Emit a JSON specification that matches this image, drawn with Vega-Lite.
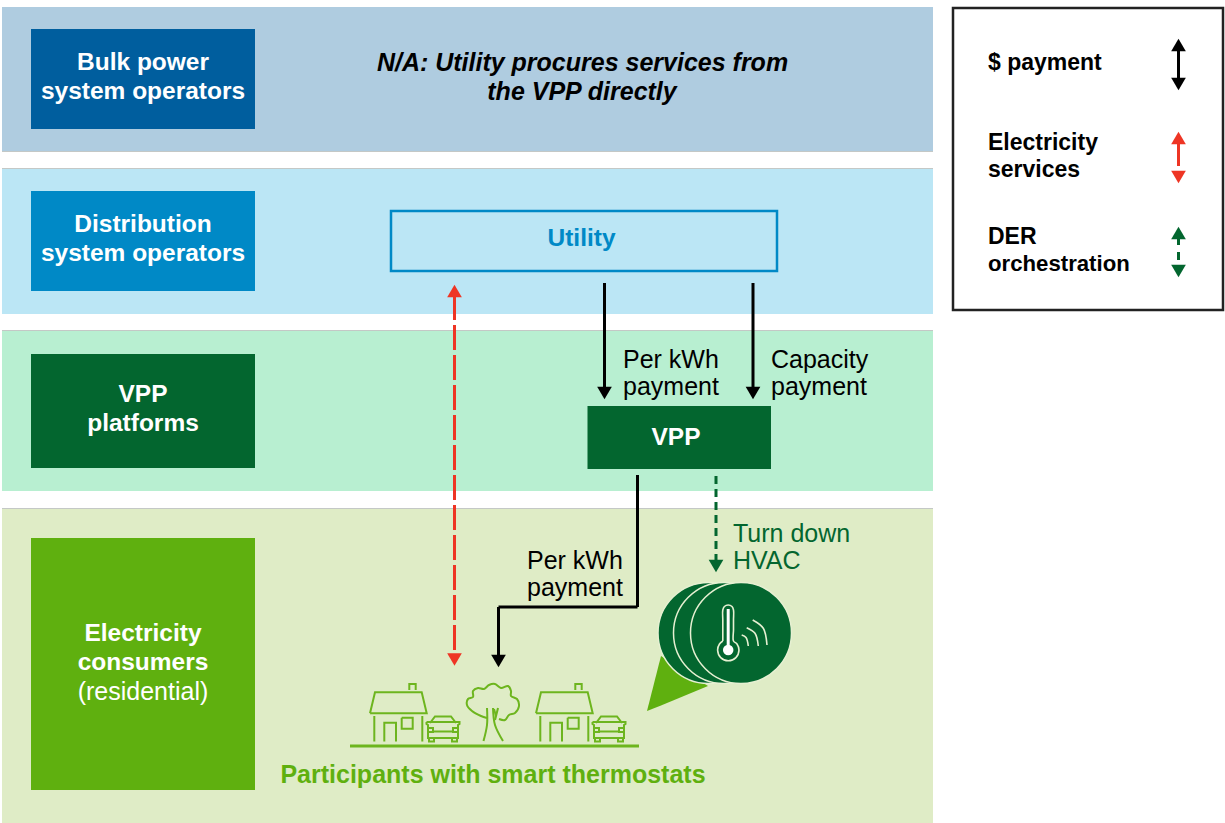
{
"$schema":"https://vega.github.io/schema/vega-lite/v6.json",
"width":1225,"height":823,"padding":0,"autosize":{"type":"none"},
"background":"white",
"config":{"view":{"stroke":null},"axis":{"domain":false}},
"datasets":{
"rects":[
{"x":2,"x2":933,"y":7,"y2":152,"c":"bulkBand"},
{"x":2,"x2":933,"y":168,"y2":314,"c":"distBand"},
{"x":2,"x2":933,"y":330,"y2":491,"c":"vppBand"},
{"x":2,"x2":933,"y":508,"y2":823,"c":"consBand"},
{"x":2,"x2":933,"y":151,"y2":152,"c":"edge"},
{"x":2,"x2":933,"y":168,"y2":169,"c":"edge"},
{"x":2,"x2":933,"y":330,"y2":331,"c":"edge"},
{"x":2,"x2":933,"y":508,"y2":509,"c":"edge"},
{"x":31,"x2":255,"y":29,"y2":129,"c":"bulk"},
{"x":31,"x2":255,"y":191,"y2":291,"c":"dist"},
{"x":31,"x2":255,"y":354,"y2":468,"c":"vpp"},
{"x":31,"x2":255,"y":538,"y2":790,"c":"cons"},
{"x":587.5,"x2":771,"y":406,"y2":469,"c":"vpp"}
],
"frames":[
{"g":"utility","c":"dist","x":391,"y":211},{"g":"utility","c":"dist","x":777,"y":211},{"g":"utility","c":"dist","x":777,"y":271},{"g":"utility","c":"dist","x":391,"y":271},{"g":"utility","c":"dist","x":391,"y":211},
{"g":"legend","c":"ink","x":953,"y":8},{"g":"legend","c":"ink","x":1223,"y":8},{"g":"legend","c":"ink","x":1223,"y":310},{"g":"legend","c":"ink","x":953,"y":310},{"g":"legend","c":"ink","x":953,"y":8}
],
"flows":[
{"g":"a1","c":"black","d":"solid","x":604.5,"y":283},{"g":"a1","c":"black","d":"solid","x":604.5,"y":389},
{"g":"a2","c":"black","d":"solid","x":753,"y":283},{"g":"a2","c":"black","d":"solid","x":753,"y":389},
{"g":"a3","c":"black","d":"solid","x":637.5,"y":475},{"g":"a3","c":"black","d":"solid","x":637.5,"y":607},{"g":"a3","c":"black","d":"solid","x":498.5,"y":607},{"g":"a3","c":"black","d":"solid","x":498.5,"y":657},
{"g":"r1","c":"red","d":"long","x":454.5,"y":295},{"g":"r1","c":"red","d":"long","x":454.5,"y":655},
{"g":"g1","c":"vpp","d":"short","x":716,"y":476},{"g":"g1","c":"vpp","d":"short","x":716,"y":561},
{"g":"l1","c":"black","d":"solid","x":1178.5,"y":49},{"g":"l1","c":"black","d":"solid","x":1178.5,"y":80},
{"g":"l2","c":"red","d":"solid","x":1178.5,"y":142},{"g":"l2","c":"red","d":"solid","x":1178.5,"y":166},
{"g":"l3","c":"vpp","d":"solid","x":1178.5,"y":238},{"g":"l3","c":"vpp","d":"solid","x":1178.5,"y":245},
{"g":"l4","c":"vpp","d":"solid","x":1178.5,"y":252},{"g":"l4","c":"vpp","d":"solid","x":1178.5,"y":260}
],
"heads":[
{"x":604.5,"y":393,"s":"down","c":"black"},{"x":753,"y":393,"s":"down","c":"black"},{"x":498.5,"y":661,"s":"down","c":"black"},
{"x":454.5,"y":291,"s":"up","c":"red"},{"x":454.5,"y":659.5,"s":"down","c":"red"},{"x":716,"y":566,"s":"down","c":"vpp"},
{"x":1178.5,"y":45,"s":"up","c":"black"},{"x":1178.5,"y":84,"s":"down","c":"black"},
{"x":1178.5,"y":138,"s":"up","c":"red"},{"x":1178.5,"y":177,"s":"down","c":"red"},
{"x":1178.5,"y":233,"s":"up","c":"vpp"},{"x":1178.5,"y":271,"s":"down","c":"vpp"}
],
"tail":[{"x":647,"y":711,"y2":711,"c":"cons"},{"x":661,"y":656,"y2":705.5,"c":"cons"},{"x":708,"y":686,"y2":686,"c":"cons"}],
"discs":[{"x":708.5,"y":633,"k":"a"},{"x":724,"y":633,"k":"b"},{"x":741,"y":633,"k":"c"}],
"ground":[{"x":350,"y":746},{"x":639,"y":746}],
"icons":[
{"g":"roof1","x":370,"y":713.3},{"g":"roof1","x":375,"y":692.3},{"g":"roof1","x":421.7,"y":692.3},{"g":"roof1","x":426.7,"y":713.3},{"g":"roof1","x":370,"y":713.3},
{"g":"chim1","x":409.3,"y":690},{"g":"chim1","x":409.3,"y":684},{"g":"chim1","x":415.7,"y":684},{"g":"chim1","x":415.7,"y":690},
{"g":"wl1","x":374.3,"y":716},{"g":"wl1","x":374.3,"y":741.5},
{"g":"wr1","x":422.3,"y":716},{"g":"wr1","x":422.3,"y":741.5},
{"g":"door1","x":384.3,"y":741.5},{"g":"door1","x":384.3,"y":722.7},{"g":"door1","x":396,"y":722.7},{"g":"door1","x":396,"y":741.5},
{"g":"win1","x":401.7,"y":717.7},{"g":"win1","x":412.7,"y":717.7},{"g":"win1","x":412.7,"y":728.7},{"g":"win1","x":401.7,"y":728.7},{"g":"win1","x":401.7,"y":717.7},
{"g":"cab1","x":430,"y":723},{"g":"cab1","x":435,"y":716.5},{"g":"cab1","x":451,"y":716.5},{"g":"cab1","x":456,"y":723},
{"g":"bod1","x":426.5,"y":722},{"g":"bod1","x":459.5,"y":722},{"g":"bod1","x":459.5,"y":724},{"g":"bod1","x":458,"y":725},{"g":"bod1","x":458,"y":738},{"g":"bod1","x":428,"y":738},{"g":"bod1","x":428,"y":725},{"g":"bod1","x":426.5,"y":724},{"g":"bod1","x":426.5,"y":722},
{"g":"whl1","x":429,"y":738},{"g":"whl1","x":429,"y":741.5},{"g":"whl1","x":434,"y":741.5},{"g":"whl1","x":434,"y":738},
{"g":"whr1","x":452,"y":738},{"g":"whr1","x":452,"y":741.5},{"g":"whr1","x":457,"y":741.5},{"g":"whr1","x":457,"y":738},
{"g":"gr1","x":434,"y":731.5},{"g":"gr1","x":452,"y":731.5},
{"g":"lampl1","x":428,"y":728},{"g":"lampl1","x":433,"y":728},{"g":"lampl1","x":433,"y":732},{"g":"lampl1","x":428,"y":732},
{"g":"lampr1","x":458,"y":728},{"g":"lampr1","x":453,"y":728},{"g":"lampr1","x":453,"y":732},{"g":"lampr1","x":458,"y":732},
{"g":"roof2","x":536,"y":713.3},{"g":"roof2","x":541,"y":692.3},{"g":"roof2","x":587.7,"y":692.3},{"g":"roof2","x":592.7,"y":713.3},{"g":"roof2","x":536,"y":713.3},
{"g":"chim2","x":575.3,"y":690},{"g":"chim2","x":575.3,"y":684},{"g":"chim2","x":581.7,"y":684},{"g":"chim2","x":581.7,"y":690},
{"g":"wl2","x":540.3,"y":716},{"g":"wl2","x":540.3,"y":741.5},
{"g":"wr2","x":588.3,"y":716},{"g":"wr2","x":588.3,"y":741.5},
{"g":"door2","x":550.3,"y":741.5},{"g":"door2","x":550.3,"y":722.7},{"g":"door2","x":562,"y":722.7},{"g":"door2","x":562,"y":741.5},
{"g":"win2","x":567.7,"y":717.7},{"g":"win2","x":578.7,"y":717.7},{"g":"win2","x":578.7,"y":728.7},{"g":"win2","x":567.7,"y":728.7},{"g":"win2","x":567.7,"y":717.7},
{"g":"cab2","x":596,"y":723},{"g":"cab2","x":601,"y":716.5},{"g":"cab2","x":617,"y":716.5},{"g":"cab2","x":622,"y":723},
{"g":"bod2","x":592.5,"y":722},{"g":"bod2","x":625.5,"y":722},{"g":"bod2","x":625.5,"y":724},{"g":"bod2","x":624,"y":725},{"g":"bod2","x":624,"y":738},{"g":"bod2","x":594,"y":738},{"g":"bod2","x":594,"y":725},{"g":"bod2","x":592.5,"y":724},{"g":"bod2","x":592.5,"y":722},
{"g":"whl2","x":595,"y":738},{"g":"whl2","x":595,"y":741.5},{"g":"whl2","x":600,"y":741.5},{"g":"whl2","x":600,"y":738},
{"g":"whr2","x":618,"y":738},{"g":"whr2","x":618,"y":741.5},{"g":"whr2","x":623,"y":741.5},{"g":"whr2","x":623,"y":738},
{"g":"gr2","x":600,"y":731.5},{"g":"gr2","x":618,"y":731.5},
{"g":"lampl2","x":594,"y":728},{"g":"lampl2","x":599,"y":728},{"g":"lampl2","x":599,"y":732},{"g":"lampl2","x":594,"y":732},
{"g":"lampr2","x":624,"y":728},{"g":"lampr2","x":619,"y":728},{"g":"lampr2","x":619,"y":732},{"g":"lampr2","x":624,"y":732}
],
"tree":[
{"g":"crown","x":487,"y":718},{"g":"crown","x":481,"y":716},{"g":"crown","x":472,"y":711},{"g":"crown","x":467,"y":705},{"g":"crown","x":468,"y":699},{"g":"crown","x":473,"y":697},{"g":"crown","x":473,"y":691},{"g":"crown","x":478,"y":688},{"g":"crown","x":484,"y":689},{"g":"crown","x":489,"y":685},{"g":"crown","x":495,"y":684},{"g":"crown","x":501,"y":688},{"g":"crown","x":508,"y":686},{"g":"crown","x":511,"y":691},{"g":"crown","x":511,"y":696},{"g":"crown","x":517,"y":699},{"g":"crown","x":519,"y":706},{"g":"crown","x":515,"y":713},{"g":"crown","x":509,"y":715},{"g":"crown","x":505,"y":720},{"g":"crown","x":499,"y":719},
{"g":"tl","x":487,"y":708},{"g":"tl","x":487,"y":725},{"g":"tl","x":483.5,"y":741},
{"g":"tr","x":493,"y":708},{"g":"tr","x":495,"y":725},{"g":"tr","x":503,"y":741},
{"g":"b1","x":498,"y":708},{"g":"b1","x":495,"y":720},
{"g":"b2","x":494,"y":709},{"g":"b2","x":496,"y":716}
],
"therm":[
{"g":"out","x":722.8,"y":641},{"g":"out","x":719.5,"y":644},{"g":"out","x":717.6,"y":650},{"g":"out","x":720.7,"y":657.6},{"g":"out","x":728.3,"y":660.7},{"g":"out","x":735.9,"y":657.6},{"g":"out","x":739,"y":650},{"g":"out","x":737,"y":644},{"g":"out","x":733.5,"y":641},{"g":"out","x":733.5,"y":630},{"g":"out","x":733.5,"y":620},{"g":"out","x":733.5,"y":610},{"g":"out","x":732,"y":606.5},{"g":"out","x":728.2,"y":605},{"g":"out","x":724.4,"y":606.5},{"g":"out","x":722.8,"y":610},{"g":"out","x":722.8,"y":620},{"g":"out","x":722.8,"y":630},{"g":"out","x":722.8,"y":641},
{"g":"w1","x":741.7,"y":635},{"g":"w1","x":746,"y":637.5},{"g":"w1","x":748.3,"y":646},
{"g":"w2","x":746.7,"y":627.7},{"g":"w2","x":755,"y":633.3},{"g":"w2","x":758.3,"y":646},
{"g":"w3","x":752.7,"y":620},{"g":"w3","x":763.3,"y":628.3},{"g":"w3","x":767,"y":645}
],
"stem":[{"x":728.2,"y":609},{"x":728.2,"y":650}],
"bulb":[{"x":728.2,"y":650}],
"boldText":[
{"t":"Bulk power","x":143,"y":62,"c":"white"},{"t":"system operators","x":143,"y":91,"c":"white"},
{"t":"Distribution","x":143,"y":224,"c":"white"},{"t":"system operators","x":143,"y":253,"c":"white"},
{"t":"VPP","x":143,"y":394,"c":"white"},{"t":"platforms","x":143,"y":423,"c":"white"},
{"t":"Electricity","x":143,"y":633,"c":"white"},{"t":"consumers","x":143,"y":662,"c":"white"},
{"t":"Utility","x":581.5,"y":238,"c":"dist"},{"t":"VPP","x":676,"y":437,"c":"white"}
],
"caption":[{"t":"Participants with smart thermostats","x":493,"y":774,"c":"cons"}],
"legendText":[
{"t":"$ payment","x":988,"y":62,"c":"black"},{"t":"Electricity","x":988,"y":142,"c":"black"},{"t":"services","x":988,"y":169,"c":"black"},{"t":"DER","x":988,"y":236,"c":"black"}
],
"legendNarrow":[{"t":"orchestration","x":988,"y":263,"c":"black"}],
"italicText":[{"t":"N/A: Utility procures services from","x":582.5,"y":62,"c":"black"},{"t":"the VPP directly","x":582,"y":91,"c":"black"}],
"plainLeft":[
{"t":"Per kWh","x":623,"y":359,"c":"black"},{"t":"payment","x":623,"y":386,"c":"black"},
{"t":"Capacity","x":771,"y":359,"c":"black"},{"t":"payment","x":771,"y":386,"c":"black"},
{"t":"Per kWh","x":527,"y":560,"c":"black"},{"t":"payment","x":527,"y":587,"c":"black"},
{"t":"Turn down","x":733,"y":533,"c":"vpp"},{"t":"HVAC","x":733,"y":560,"c":"vpp"}
],
"plainCenter":[{"t":"(residential)","x":143,"y":691,"c":"white"}]
},
"encoding":{
"x":{"field":"x","type":"quantitative","scale":{"domain":[0,1225],"nice":false,"zero":false},"axis":null},
"y":{"field":"y","type":"quantitative","scale":{"domain":[823,0],"nice":false,"zero":false},"axis":null},
"color":{"field":"c","type":"nominal","legend":null,"scale":{
"domain":["bulkBand","distBand","vppBand","consBand","bulk","dist","vpp","cons","red","black","ink","white","edge"],
"range":["#AFCCE0","#BBE6F5","#B8EFD1","#DFECC6","#005E9E","#0089C6","#03662F","#5FB00F","#EE3524","#000000","#222222","#FFFFFF","#C4C8C6"]}}
},
"layer":[
{"data":{"name":"rects"},"mark":{"type":"rect"},"encoding":{"x2":{"field":"x2"},"y2":{"field":"y2"}}},
{"data":{"name":"frames"},"transform":[{"window":[{"op":"row_number","as":"i"}]}],"mark":{"type":"line","strokeWidth":2.5,"strokeCap":"square"},"encoding":{"detail":{"field":"g"},"order":{"field":"i","type":"quantitative"}}},
{"data":{"name":"tail"},"mark":{"type":"area","color":"#5FB00F","opacity":1},"encoding":{"y2":{"field":"y2"},"color":null}},
{"data":{"name":"discs"},"mark":{"type":"point","filled":true,"fill":"#03662F","stroke":"#E6F0D2","strokeWidth":1.5,"opacity":1,"size":10201,"shape":"circle"},"encoding":{"color":null,"detail":{"field":"k"}}},
{"data":{"name":"ground"},"mark":{"type":"line","color":"#6DB51E","strokeWidth":3},"encoding":{"color":null}},
{"data":{"name":"icons"},"transform":[{"window":[{"op":"row_number","as":"i"}]}],"mark":{"type":"line","color":"#6DB51E","strokeWidth":2},"encoding":{"color":null,"detail":{"field":"g"},"order":{"field":"i","type":"quantitative"}}},
{"data":{"name":"tree"},"transform":[{"window":[{"op":"row_number","as":"i"}]}],"mark":{"type":"line","color":"#6DB51E","strokeWidth":2,"interpolate":"catmull-rom"},"encoding":{"color":null,"detail":{"field":"g"},"order":{"field":"i","type":"quantitative"}}},
{"data":{"name":"therm"},"transform":[{"window":[{"op":"row_number","as":"i"}]}],"mark":{"type":"line","color":"#E6F0D2","strokeWidth":1.6,"interpolate":"catmull-rom"},"encoding":{"color":null,"detail":{"field":"g"},"order":{"field":"i","type":"quantitative"}}},
{"data":{"name":"stem"},"transform":[{"window":[{"op":"row_number","as":"i"}]}],"mark":{"type":"line","color":"#FFFFFF","strokeWidth":3},"encoding":{"color":null,"order":{"field":"i","type":"quantitative"}}},
{"data":{"name":"bulb"},"mark":{"type":"point","filled":true,"fill":"#FFFFFF","opacity":1,"size":110,"shape":"circle"},"encoding":{"color":null}},
{"data":{"name":"flows"},"transform":[{"window":[{"op":"row_number","as":"i"}]}],"mark":{"type":"line","strokeWidth":3},"encoding":{"detail":{"field":"g"},"order":{"field":"i","type":"quantitative"},"strokeDash":{"field":"d","type":"nominal","legend":null,"scale":{"domain":["solid","long","short"],"range":[[1,0],[25,5],[8,5]]}}}},
{"data":{"name":"heads"},"mark":{"type":"point","filled":true,"opacity":1,"size":215},"encoding":{"shape":{"field":"s","type":"nominal","legend":null,"scale":{"domain":["up","down"],"range":["triangle-up","triangle-down"]}}}},
{"data":{"name":"boldText"},"mark":{"type":"text","font":"Liberation Sans","fontWeight":"bold","fontSize":24.5,"align":"center","baseline":"middle","dy":0.5},"encoding":{"text":{"field":"t"}}},
{"data":{"name":"caption"},"mark":{"type":"text","font":"Liberation Sans","fontWeight":"bold","fontSize":25,"align":"center","baseline":"middle","dy":0.5},"encoding":{"text":{"field":"t"}}},
{"data":{"name":"legendText"},"mark":{"type":"text","font":"Liberation Sans","fontWeight":"bold","fontSize":23,"align":"left","baseline":"middle","dy":0.5},"encoding":{"text":{"field":"t"}}},
{"data":{"name":"legendNarrow"},"mark":{"type":"text","font":"Liberation Sans","fontWeight":"bold","fontSize":22.2,"align":"left","baseline":"middle","dy":0.5},"encoding":{"text":{"field":"t"}}},
{"data":{"name":"italicText"},"mark":{"type":"text","font":"Liberation Sans","fontWeight":"bold","fontStyle":"italic","fontSize":25,"align":"center","baseline":"middle","dy":0.5},"encoding":{"text":{"field":"t"}}},
{"data":{"name":"plainLeft"},"mark":{"type":"text","font":"Liberation Sans","fontSize":25,"align":"left","baseline":"middle","dy":0.5},"encoding":{"text":{"field":"t"}}},
{"data":{"name":"plainCenter"},"mark":{"type":"text","font":"Liberation Sans","fontSize":25,"align":"center","baseline":"middle","dy":0.5},"encoding":{"text":{"field":"t"}}}
]
}
